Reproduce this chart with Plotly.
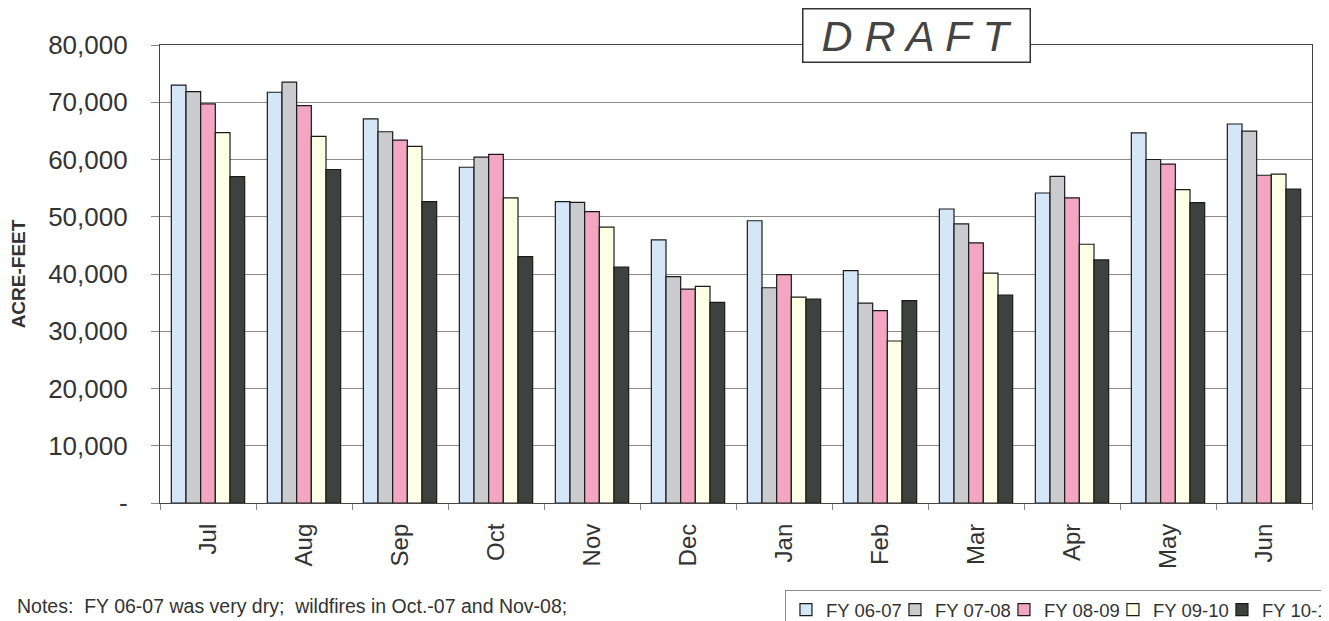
import plotly.graph_objects as go

months = ["Jul", "Aug", "Sep", "Oct", "Nov", "Dec", "Jan", "Feb", "Mar", "Apr", "May", "Jun"]

fy_06_07 = [73000, 71750, 67100, 58650, 52650, 45950, 49300, 40600, 51350, 54150, 64650, 66200]
fy_07_08 = [71850, 73500, 64850, 60400, 52500, 39550, 37600, 34900, 48750, 57050, 60000, 64950]
fy_08_09 = [69700, 69400, 63400, 60900, 50900, 37350, 39900, 33600, 45450, 53300, 59200, 57250]
fy_09_10 = [64700, 64050, 62300, 53300, 48200, 37850, 35950, 28300, 40150, 45200, 54750, 57450]
fy_10_11 = [57000, 58250, 52650, 43050, 41200, 35050, 35600, 35350, 36300, 42450, 52450, 54850]

series_names = ["FY 06-07", "FY 07-08", "FY 08-09", "FY 09-10", "FY 10-11"]
series_values = [fy_06_07, fy_07_08, fy_08_09, fy_09_10, fy_10_11]
series_colors = ["#D4E7F6", "#CBCBCF", "#F3A6C0", "#FFFFE4", "#3D423D"]

y_tick_vals = [0, 10000, 20000, 30000, 40000, 50000, 60000, 70000, 80000]
y_tick_text = ["-", "10,000", "20,000", "30,000", "40,000", "50,000", "60,000", "70,000", "80,000"]

notes_text = "Notes:\u00a0\u00a0FY 06-07 was very dry;\u00a0\u00a0wildfires in Oct.-07 and Nov-08;"

fig = go.Figure()
for name, vals, col in zip(series_names, series_values, series_colors):
    fig.add_trace(go.Bar(
        x=months, y=vals, name=name,
        marker=dict(color=col, line=dict(color="#1a1a1a", width=1.2)),
    ))

font_family = "Liberation Sans, Arial, sans-serif"

# The page body has an 8px default margin, so the figure is sized 8px smaller
# than the 1329x621 window and sits 8px in from its top-left corner.
fig.update_layout(
    width=1321, height=613,
    margin=dict(l=152, r=17, t=37, b=118, autoexpand=False),
    barmode="group", bargap=0.236, bargroupgap=0,
    plot_bgcolor="white", paper_bgcolor="white",
    font=dict(family=font_family, color="#2a2a2a"),
    showlegend=True,
    legend=dict(
        orientation="h", x=0.5425, y=-0.19, xanchor="left", yanchor="top",
        bordercolor="#8a8a8a", borderwidth=1,
        font=dict(size=18.5, family=font_family, color="#333"),
        entrywidth=64, entrywidthmode="pixels",
        bgcolor="white",
    ),
    xaxis=dict(
        type="category",
        tickangle=-90,
        tickfont=dict(size=24, family=font_family, color="#333"),
        ticks="outside", tickson="boundaries", ticklen=6, tickcolor="#888",
        showline=True, linecolor="#444", linewidth=1.2,
        mirror=True,
        showgrid=False,
        ticklabelstandoff=10,
        automargin=False,
    ),
    yaxis=dict(
        range=[0, 80000],
        tickvals=y_tick_vals, ticktext=y_tick_text,
        tickfont=dict(size=26, family=font_family, color="#333"),
        ticks="outside", ticklen=8, tickcolor="#888",
        showline=True, linecolor="#444", linewidth=1.2,
        mirror=True,
        showgrid=True, gridcolor="#8c8c8c", gridwidth=1,
        zeroline=False,
        ticklabelstandoff=18,
        automargin=False,
        title=dict(text="<b>ACRE-FEET</b>", font=dict(size=19, family=font_family, color="#333"), standoff=24),
    ),
    annotations=[
        dict(
            text="<i>D R A F T</i>",
            xref="paper", yref="paper", x=0.6567, y=1.0218,
            xanchor="center", yanchor="middle",
            showarrow=False,
            font=dict(size=43, family=font_family, color="#444"),
            bgcolor="white", bordercolor="#333", borderwidth=1.5, borderpad=0,
            width=226, height=52,
        ),
        dict(
            text=notes_text,
            xref="paper", yref="paper", x=-0.1259, y=-0.224,
            xanchor="left", yanchor="middle",
            showarrow=False,
            font=dict(size=19.5, family=font_family, color="#333"),
        ),
    ],
)

fig.write_html("out.html")
